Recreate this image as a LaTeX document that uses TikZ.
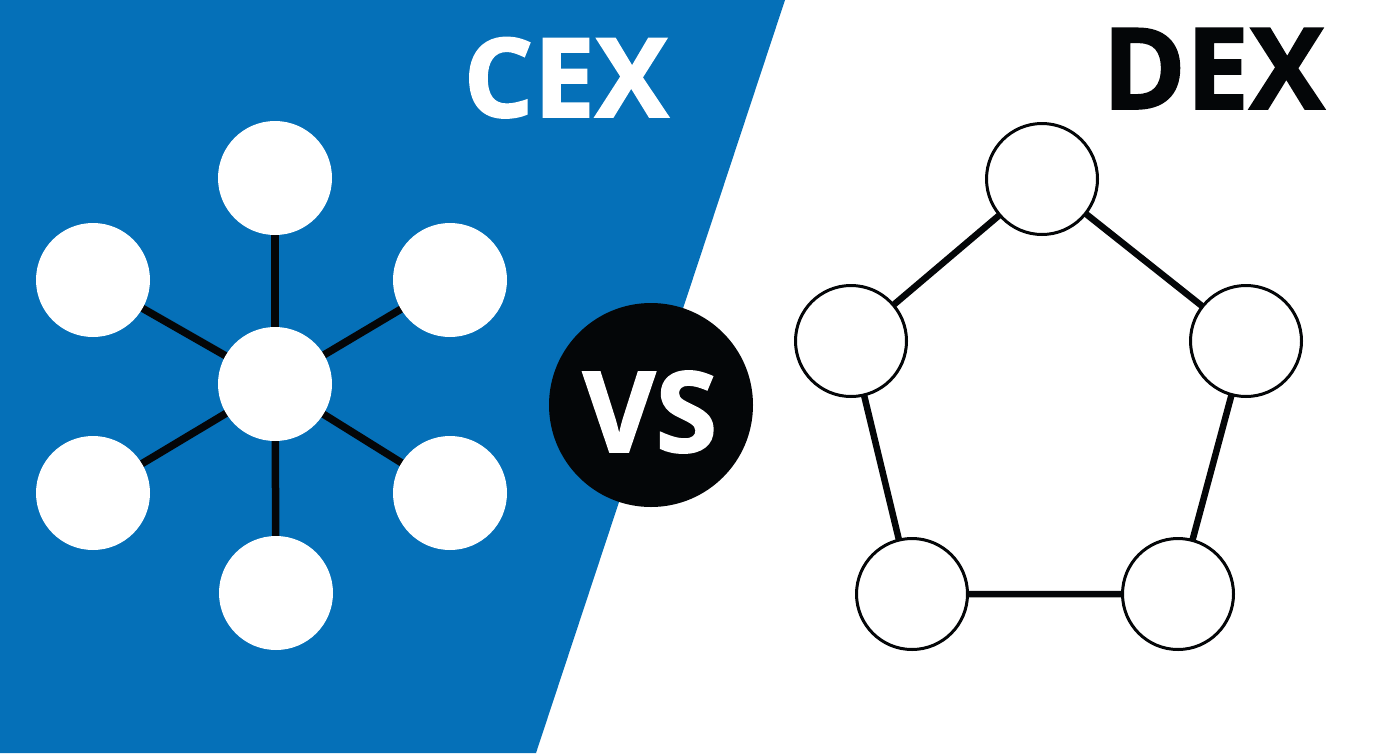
\documentclass[tikz,border=0pt]{standalone}
\usepackage{fontspec}
\setmainfont{Open Sans}
\newfontfamily\heavyfont{Open Sans}[BoldFeatures={FakeBold=1.5}]
\definecolor{cexblue}{RGB}{5,112,184}
\definecolor{inkblack}{RGB}{4,6,8}
\pgfdeclarelayer{bg}
\pgfdeclarelayer{links}
\pgfsetlayers{bg,links,main}
\begin{document}
\begin{tikzpicture}[x=1pt,y=-1pt,
  cexnode/.style={circle,fill=white,minimum size=114pt,inner sep=0pt},
  dexnode/.style={circle,draw=inkblack,line width=3pt,fill=white,minimum size=111pt,inner sep=0pt},
  cexlink/.style={line width=7.5pt,draw=inkblack},
  dexlink/.style={line width=6.5pt,draw=inkblack},
  bigtitle/.style={font=\heavyfont\fontsize{110pt}{110pt}\selectfont\bfseries,inner sep=0pt,anchor=base}]
\useasboundingbox (0,0) rectangle (1400,753);
\begin{pgfonlayer}{bg}
  \fill[white] (0,0) rectangle (1400,753);
  \fill[cexblue] (0,0) -- (785,0) -- (536,753) -- (0,753) -- cycle;
\end{pgfonlayer}
% CEX star
\node[cexnode] (cc) at (275,384) {};
\node[cexnode] (ct) at (275,178) {};
\node[cexnode] (cul) at (93,280) {};
\node[cexnode] (cur) at (450,280) {};
\node[cexnode] (cll) at (93,493) {};
\node[cexnode] (clr) at (450,493) {};
\node[cexnode] (cb) at (276,593) {};
% DEX pentagon
\node[dexnode] (dt) at (1042,179) {};
\node[dexnode] (dl) at (851,341) {};
\node[dexnode] (dr) at (1246,341) {};
\node[dexnode] (dbl) at (912,594) {};
\node[dexnode] (dbr) at (1178,594) {};
\begin{pgfonlayer}{links}
  \foreach \n in {ct,cul,cur,cll,clr,cb} \draw[cexlink] (cc.center) -- (\n.center);
  \draw[dexlink] (dt.center) -- (dl.center) -- (dbl.center) -- (dbr.center) -- (dr.center) -- (dt.center);
\end{pgfonlayer}
% VS badge
\node[circle,fill=inkblack,minimum size=204pt,inner sep=0pt] (vs) at (651,405) {};
\node[bigtitle,text=white,font=\heavyfont\fontsize{112pt}{112pt}\selectfont\bfseries] (vstext) at (650,452) {VS};
% titles
\node[bigtitle,text=white] (cex) at (566,117) {CEX};
\node[bigtitle,text=inkblack,font=\heavyfont\fontsize{113pt}{113pt}\selectfont\bfseries] (dex) at (1213.5,109) {DEX};
\end{tikzpicture}
\end{document}
